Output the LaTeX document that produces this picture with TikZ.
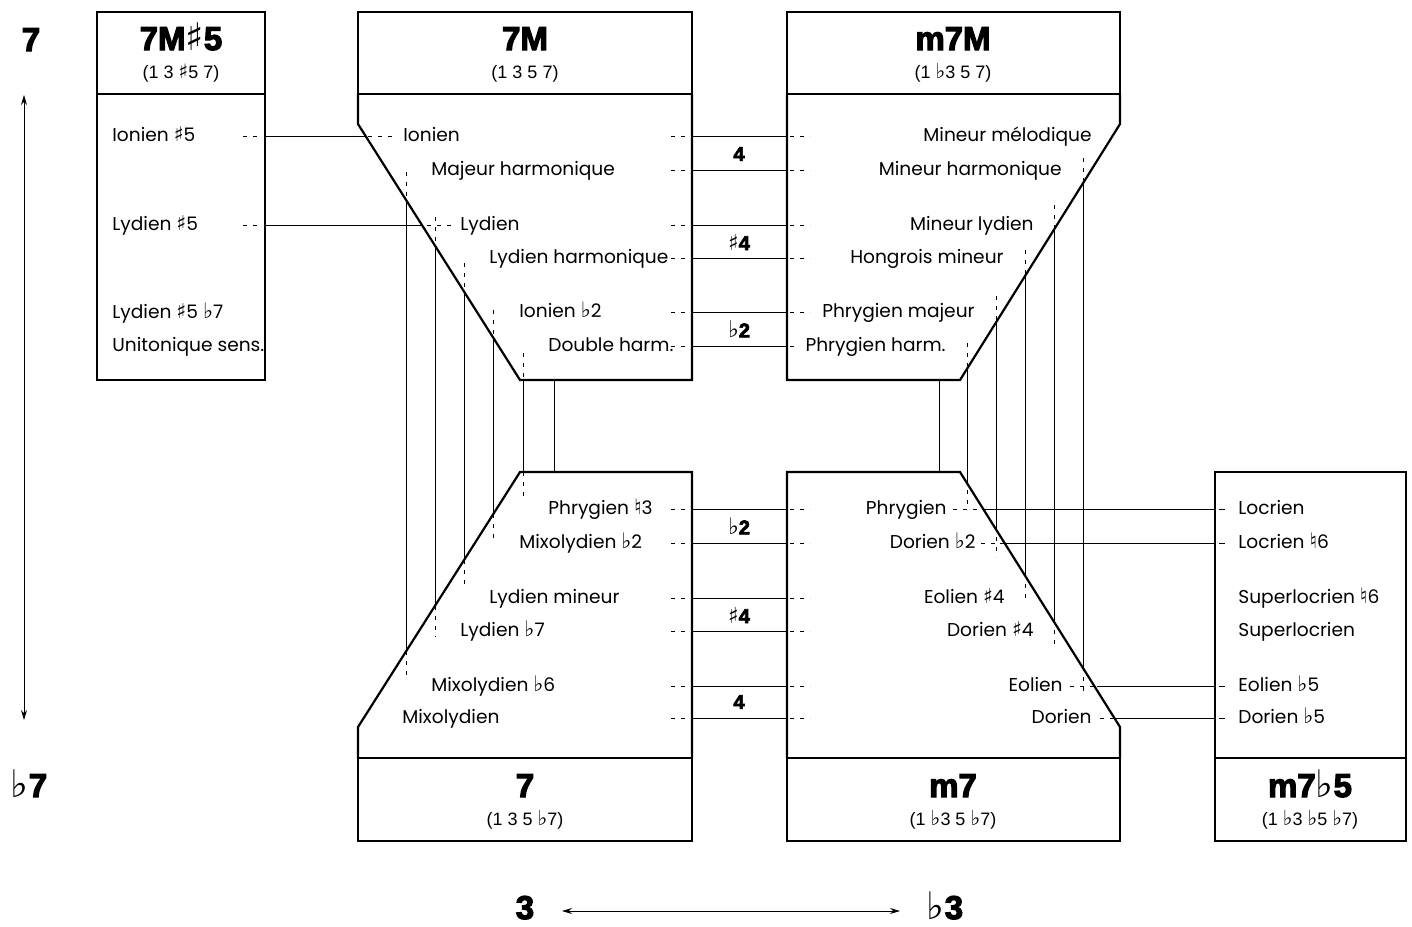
\documentclass[tikz,border=0pt]{standalone}
\usepackage{fontspec}
\setmainfont{Poppins}
\newfontfamily\helv{Liberation Sans}
\newfontfamily\noir[FakeBold=3.5]{Liberation Sans Bold}
\newfontfamily\musique[Scale=1.15]{DejaVu Sans}
\newfontfamily\musiquegras[Scale=1.1]{DejaVu Sans Bold}
\usetikzlibrary{arrows.meta}

\newcommand{\bemol}{{\musique ♭}}
\newcommand{\diese}{{\musiquegras ♯}}
\newcommand{\dieseb}{{\musique ♯}}
\newcommand{\becarre}{{\musique ♮}}

\tikzset{
  boite/.style={line width=1.1pt},
  lien/.style={line width=0.5pt},
  tirets/.style={line width=0.5pt, dash pattern=on 2pt off 3pt},
  mode/.style={inner sep=0pt, text height=0.5em, text depth=0pt, font=\fontsize{9.3}{11}\selectfont},
  titre/.style={inner sep=0pt, font=\noir\fontsize{16.5}{18}\selectfont},
  formule/.style={inner sep=0pt, font=\helv\fontsize{9}{11}\selectfont},
  inter/.style={inner sep=0pt, font=\noir\fontsize{10}{12}\selectfont},
}

\begin{document}
\begin{tikzpicture}[x=0.5pt, y=-0.5pt]
    \useasboundingbox (0,0) rectangle (1412,926);

    % cadres
    \draw[boite] (97,12) rectangle (265,380);
    \draw[boite] (97,94) -- (265,94);
    \draw[boite] (358,12) rectangle (692,94);
    \draw[boite] (358,94) -- (358,124) -- (520,380) -- (692,380) -- (692,94);
    \draw[boite] (787,12) rectangle (1120,94);
    \draw[boite] (1120,94) -- (1120,124) -- (960,380) -- (787,380) -- (787,94);
    \draw[boite] (358,758) rectangle (692,841);
    \draw[boite] (358,758) -- (358,727) -- (520,472) -- (692,472) -- (692,758);
    \draw[boite] (787,758) rectangle (1120,841);
    \draw[boite] (1120,758) -- (1120,727) -- (960,472) -- (787,472) -- (787,758);
    \draw[boite] (1215,472) rectangle (1406,841);
    \draw[boite] (1215,758) -- (1406,758);

    % accords
    \foreach \x/\y/\t/\f/\n in {181/50/7M\dieseb5/(1 3 \diese5 7)/aug, 525/50/7M/(1 3 5 7)/maj,
        953/50/m7M/(1 \bemol3 5 7)/minmaj, 525/797/7/(1 3 5 \bemol7)/dom,
        953/797/m7/(1 \bemol3 5 \bemol7)/min, 1310/797/m7\bemol5/(1 \bemol3 \bemol5 \bemol7)/dim}
    {
        \node[titre, anchor=base] (t\n) at (\x,\y) {\t};
        \node[formule, anchor=base] (f\n) at (\x,\y+28) {\f};
    }

    % 7M#5
    \node[mode, anchor=west] (ion5) at (112,136) {Ionien \diese5};
    \node[mode, anchor=west] (lyd5) at (112,225) {Lydien \diese5};
    \node[mode, anchor=west] (lyd57) at (112,313) {Lydien \diese5 \bemol7};
    \node[mode, anchor=west] (unit) at (112,346) {Unitonique sens.};
    \draw[tirets] (243,136) -- (262,136);
    \draw[tirets] (243,225) -- (262,225);
    \draw[lien] (265,136) -- (366,136);
    \draw[tirets] (368,136) -- (396,136);
    \draw[lien] (265,225) -- (422,225);
    \draw[tirets] (427,225) -- (452,225);

    % 7M <-> m7M
    \foreach \y/\xg/\g/\xd/\d/\n/\f in {136/403/Ionien/1092/Mineur mélodique/1/810,
        170/431/Majeur harmonique/1062/Mineur harmonique/2/810,
        225/460/Lydien/1034/Mineur lydien/3/810,
        258/489/Lydien harmonique/1004/Hongrois mineur/4/810,
        312/519/Ionien \bemol2/975/Phrygien majeur/5/810,
        346/548/Double harm./946/Phrygien harm./6/798}
    {
        \node[mode, anchor=west] (h\n) at (\xg,\y) {\g};
        \node[mode, anchor=east] (hm\n) at (\xd,\y) {\d};
        \draw[tirets] (671,\y) -- (690,\y);
        \draw[lien] (692,\y) -- (787,\y);
        \draw[tirets] (790,\y) -- (\f,\y);
    }

    % 7 <-> m7
    \foreach \y/\xg/\g/\xd/\d/\n in {509/548/Phrygien \becarre3/947/Phrygien/1,
        543/519/Mixolydien \bemol2/976/Dorien \bemol2/2,
        598/489/Lydien mineur/1005/Eolien \diese4/3,
        631/460/Lydien \bemol7/1034/Dorien \diese4/4,
        686/431/Mixolydien \bemol6/1063/Eolien/5,
        718/402/Mixolydien/1092/Dorien/6}
    {
        \node[mode, anchor=west] (b\n) at (\xg,\y) {\g};
        \node[mode, anchor=east] (bm\n) at (\xd,\y) {\d};
        \draw[tirets] (671,\y) -- (690,\y);
        \draw[lien] (692,\y) -- (787,\y);
        \draw[tirets] (790,\y) -- (810,\y);
    }

    % intervalles
    \node[inter] (i1) at (739,154) {4};
    \node[inter] (i2) at (739,242) {\diese4};
    \node[inter] (i3) at (739,329) {\bemol2};
    \node[inter] (i4) at (739,526) {\bemol2};
    \node[inter] (i5) at (739,615) {\diese4};
    \node[inter] (i6) at (739,702) {4};

    % m7b5
    \foreach \y/\t/\n in {509/Locrien/1, 543/Locrien \becarre6/2, 598/Superlocrien \becarre6/3,
        631/Superlocrien/4, 686/Eolien \bemol5/5, 718/Dorien \bemol5/6}
        \node[mode, anchor=west] (loc\n) at (1238,\y) {\t};
    \foreach \y/\xa/\xb in {509/953/985, 543/981/1000, 686/1070/1097, 718/1100/1116}
    {
        \draw[tirets] (\xa,\y) -- (\xb,\y);
        \draw[lien] (\xb,\y) -- (1215,\y);
        \draw[lien] (1219,\y) -- (1225,\y);
    }

    % liens verticaux
    \foreach \x/\ya/\yb/\yc/\yd in {406/172/200/651/680, 435/217/246/606/637, 464/263/291/560/587,
        493/310/337/514/540, 523/353/380/472/498,
        1083/158/183/667/694, 1054/205/230/620/648, 1025/250/276/574/602,
        996/296/322/527/557, 967/343/369/480/510}
    {
        \draw[tirets] (\x,\ya) -- (\x,\yb);
        \draw[lien] (\x,\yb) -- (\x,\yc);
        \draw[tirets] (\x,\yc) -- (\x,\yd);
    }
    \draw[lien] (554,380) -- (554,472);
    \draw[lien] (939,380) -- (939,472);

    % axes
    \node[titre, anchor=base] (sept) at (31,51) {7};
    \node[titre, anchor=base] (septb) at (29,797) {\bemol7};
    \draw[lien, {Stealth[length=5pt,width=3pt]}-{Stealth[length=5pt,width=3pt]}] (24,95) -- (24,720);
    \node[titre, anchor=base] (tierce) at (525,919) {3};
    \node[titre, anchor=base] (tierceb) at (945,919) {\bemol3};
    \draw[lien, {Stealth[length=5pt,width=3pt]}-{Stealth[length=5pt,width=3pt]}] (562,911) -- (900,911);
\end{tikzpicture}
\end{document}
